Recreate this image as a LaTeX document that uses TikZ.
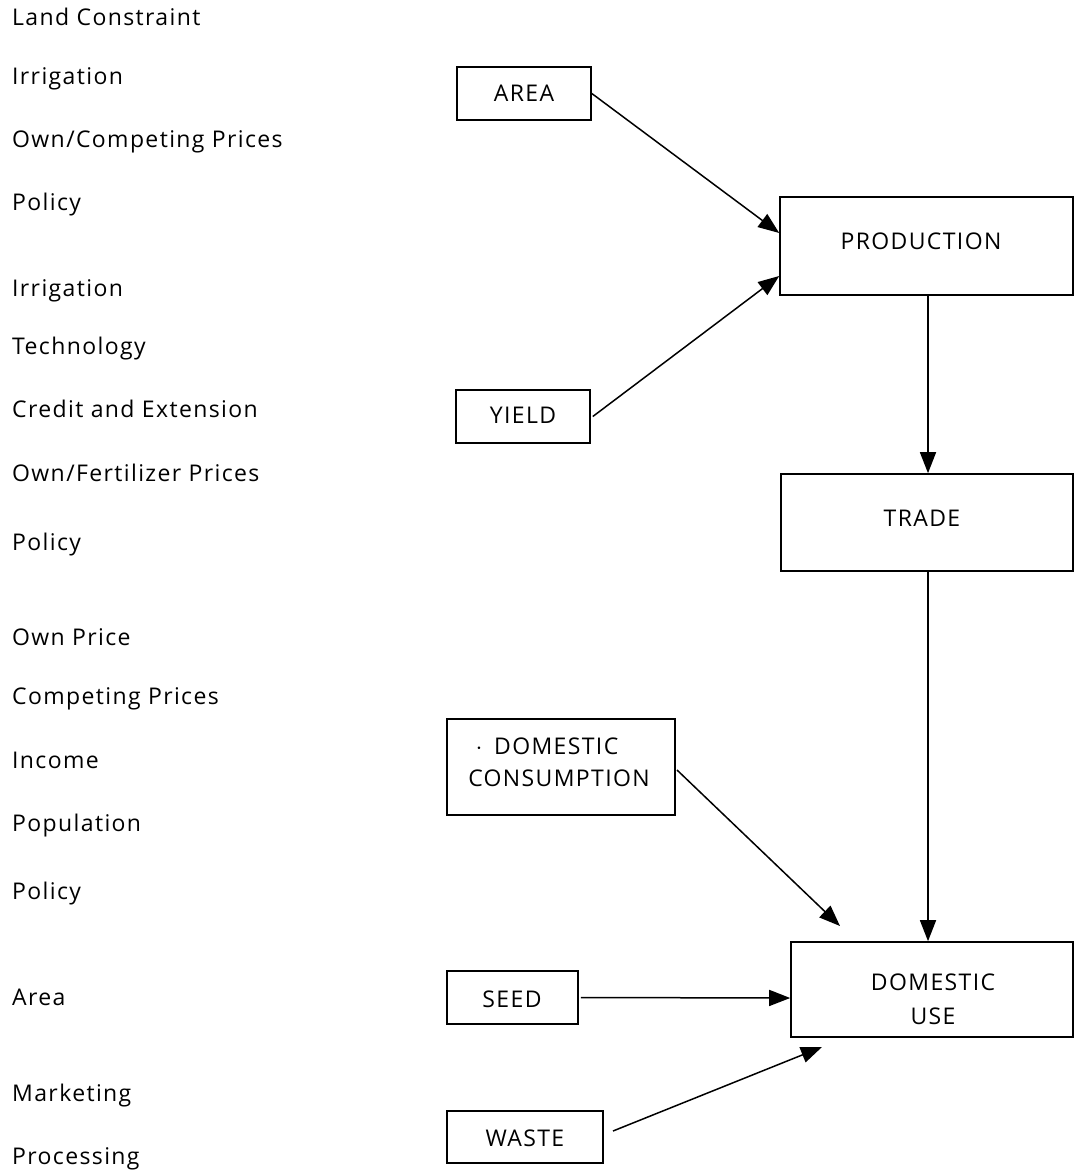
\documentclass[tikz,border=0pt]{standalone}
\usepackage{fontspec}
\setmainfont[LetterSpace=6]{Open Sans}
\usetikzlibrary{arrows.meta}
\tikzset{
  lbl/.style={anchor=base west, inner sep=0pt, font=\fontsize{23}{27}\selectfont},
  btxt/.style={anchor=base, inner sep=0pt, font=\fontsize{23}{27}\selectfont},
  box/.style={draw, line width=1.6pt, inner sep=0pt},
  conn/.style={line width=1.5pt, -{Triangle[length=21pt,width=16pt]}},
}
\begin{document}
\begin{tikzpicture}[x=1pt,y=-1pt]
\useasboundingbox (0,0) rectangle (1073,1174);
% left labels (baselines)
\node[lbl] (l1) at (12,26) {Land Constraint};
\node[lbl] (l2) at (12,85) {Irrigation};
\node[lbl] (l3) at (12,148) {Own/Competing Prices};
\node[lbl] (l4) at (12,211) {Policy};
\node[lbl] (l5) at (12,296) {Irrigation};
\node[lbl] (l6) at (12,354) {Technology};
\node[lbl] (l7) at (12,417) {Credit and Extension};
\node[lbl] (l8) at (12,481) {Own/Fertilizer Prices};
\node[lbl] (l9) at (12,550) {Policy};
\node[lbl] (l10) at (12,645) {Own Price};
\node[lbl] (l11) at (12,704) {Competing Prices};
\node[lbl] (l12) at (12,768) {Income};
\node[lbl] (l13) at (12,831) {Population};
\node[lbl] (l14) at (12,899) {Policy};
\node[lbl] (l15) at (12,1005) {Area};
\node[lbl] (l16) at (12,1101) {Marketing};
\node[lbl] (l17) at (12,1164) {Processing};
% boxes
\node[box, minimum width=134pt, minimum height=53pt] (area) at (524,93.5) {};
\node[box, minimum width=293pt, minimum height=98pt] (prod) at (926.5,246) {};
\node[box, minimum width=134pt, minimum height=53pt] (yield) at (523,416.5) {};
\node[box, minimum width=292pt, minimum height=97pt] (trade) at (927,522.5) {};
\node[box, minimum width=228pt, minimum height=96pt] (dcons) at (561,767) {};
\node[box, minimum width=282pt, minimum height=95pt] (duse) at (932,989.5) {};
\node[box, minimum width=131pt, minimum height=53pt] (seed) at (512.5,997.5) {};
\node[box, minimum width=156pt, minimum height=52pt] (waste) at (525,1137) {};
% box texts (baselines)
\node[btxt] (areaT) at (524,102) {AREA};
\node[btxt] (prodT) at (921,249) {PRODUCTION};
\node[btxt] (yieldT) at (523,423) {YIELD};
\node[btxt] (tradeT) at (922,526) {TRADE};
\node[btxt] (dconsT1) at (547,754) {$\cdot$\enspace DOMESTIC};
\node[btxt] (dconsT2) at (559,786) {CONSUMPTION};
\node[btxt] (duseT1) at (933,990) {DOMESTIC};
\node[btxt] (duseT2) at (933,1024) {USE};
\node[btxt] (seedT) at (512,1007) {SEED};
\node[btxt] (wasteT) at (525,1146) {WASTE};
% connectors
\coordinate (dcend) at (840,926);
\coordinate (waend) at (822,1047);
\coordinate (wastart) at (613,1131);
\coordinate (dcstart) at (677,770);
\draw[conn] (area.east) -- (prod.west |- 0,233);
\draw[conn] ([xshift=2pt]yield.east) -- (prod.west |- 0,276);
\draw[conn] (prod.south -| 928,0) -- (trade.north -| 928,0);
\draw[conn] (trade.south -| 928,0) -- (duse.north -| 928,0);
\draw[conn] (dcstart) -- (dcend);
\draw[conn] ([xshift=2pt]seed.east) -- (duse.west |- 0,998);
\draw[conn] (wastart) -- (waend);
\end{tikzpicture}
\end{document}
